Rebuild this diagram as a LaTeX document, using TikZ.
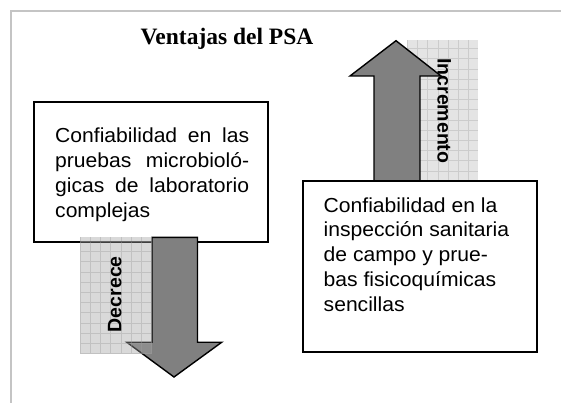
\documentclass[tikz,border=0pt]{standalone}
\usepackage{fontspec}
\setmainfont{Liberation Serif}
\newfontfamily\boxfont[FakeStretch=1.04]{Liberation Sans}
\newfontfamily\labfont{Liberation Sans}
\definecolor{arrowgray}{HTML}{808080}
\definecolor{gridfill}{HTML}{E4E4E4}
\definecolor{gridline}{HTML}{CCCCCC}
\definecolor{framegray}{HTML}{C4C4C4}
\begin{document}
\begin{tikzpicture}[x=1pt,y=-1pt,
  boxstyle/.style={draw=black, line width=2pt, fill=white, inner sep=0pt},
  boxtext/.style={anchor=base west, align=left, inner sep=0pt,
    font=\boxfont\fontsize{20.3}{24.9}\selectfont},
  arrowshape/.style={draw=black, line width=1.4pt, fill=arrowgray, line join=miter},
  sidelabel/.style={inner sep=0pt, font=\labfont\bfseries\fontsize{19.5}{20}\selectfont},
  gridlines/.style={gridline, line width=0.5pt, step=10.2pt}]
\useasboundingbox (0,0) rectangle (561,403);
\fill[white] (0,0) rectangle (561,403);
% outer frame
\draw[framegray, line width=2pt] (11,403) -- (11,11) -- (561,11);
% title
\node[anchor=base, inner sep=0pt, font=\bfseries\fontsize{23.5}{28}\selectfont] (title) at (227,44.3) {Ventajas del PSA};
% grid behind up arrow
\fill[gridfill] (407.3,40) rectangle (478.3,181);
\draw[gridlines, shift={(407.3,181)}] (0,0) grid (71,-141);
% up arrow
\draw[arrowshape] (374,181) -- (374,76) -- (350,76) -- (396,40.7) -- (441,76) -- (420,76) -- (420,181) -- cycle;
% boxes
\node[boxstyle, minimum width=233.6pt, minimum height=140pt] (lbox) at (150.8,171.7) {};
\node[boxstyle, minimum width=233.5pt, minimum height=171.3pt] (rbox) at (419.75,266.65) {};
% text nodes: base anchor = baseline of the last line
\node[boxtext] (ltext) at (55,217.1) {\makebox[194pt][s]{Confiabilidad en las}\\
\makebox[194pt][s]{pruebas microbioló-}\\
\makebox[194pt][s]{gicas de laboratorio}\\
complejas};
\node[boxtext] (rtext) at (323.5,311.6) {Confiabilidad en la\\
inspección sanitaria\\
de campo y prue-\\
bas fisicoquímicas\\
sencillas};
% down arrow
\draw[arrowshape] (152,237.3) -- (152,342.2) -- (126.7,342.2) -- (174,377) -- (221.8,342.2) -- (197.5,342.2) -- (197.5,237.3) -- cycle;
% semi-transparent grid over the down arrow
\fill[gray!73.5, fill opacity=0.4] (80,237) rectangle (151.7,353.5);
\draw[gridlines, color=gray!75, opacity=0.4, shift={(80,353.5)}] (0,0) grid (71.7,-116.5);
% labels
\node[sidelabel, rotate=-90] (inc) at (444.3,110.8) {Incremento};
\node[sidelabel, rotate=90] (dec) at (114.7,294.2) {Decrece};
\end{tikzpicture}
\end{document}
